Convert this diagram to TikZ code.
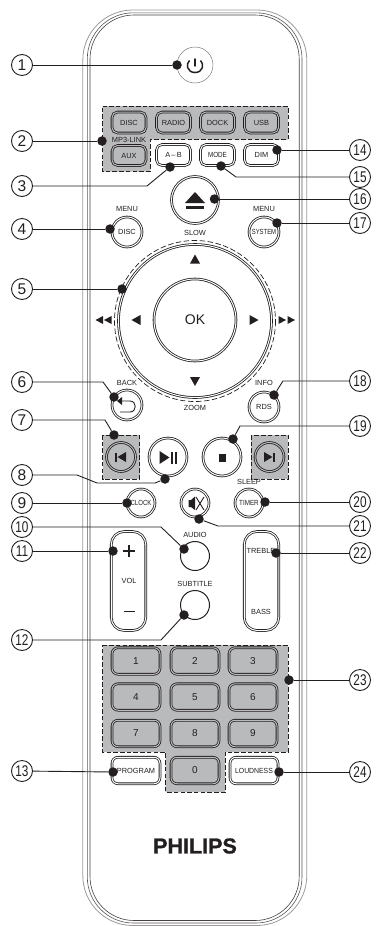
\documentclass[tikz,border=0pt]{standalone}
\usepackage{fontspec}
\setmainfont{Liberation Sans}
\newfontfamily\logofont[BoldFeatures={FakeBold=1.2}]{Liberation Sans}
\usetikzlibrary{calc}
\definecolor{keygray}{HTML}{B9BABC}
\definecolor{ink}{HTML}{231F20}
\tikzset{
  lab/.style={font=\fontsize{7.4}{8}\selectfont,text=ink,inner sep=0pt},
  dotn/.style={circle,fill=ink,draw=none,minimum size=9.5pt,inner sep=0pt},
  numc/.style={circle,draw=ink,line width=.9pt,fill=white,minimum size=21pt,inner sep=0pt,text=ink,font=\fontsize{15.5}{16}\selectfont},
  conn/.style={draw=ink,line width=.9pt},
  rim/.style={draw=ink,line width=.8pt,double=white,double distance=1pt,fill=white,text=ink,inner sep=0pt,font=\fontsize{7.4}{8}\selectfont},
  rimg/.style={rim,double=keygray,fill=keygray},
  rnd/.style={rim,circle},
  rndg/.style={rimg,circle},
  keyb/.style={rim,rounded corners=6pt,minimum width=48pt,minimum height=26.5pt,font=\fontsize{10}{11}\selectfont},
  keyg/.style={keyb,double=keygray,fill=keygray},
  smallb/.style={rim,rounded corners=5.5pt,minimum width=34pt,minimum height=21pt},
  smallg/.style={smallb,double=keygray,fill=keygray},
  area/.style={fill=keygray,draw=ink,line width=.9pt,dash pattern=on 4.5pt off 2.2pt},
  icon/.style={fill=ink,draw=none},
}
\newcommand{\nar}[1]{\scalebox{.76}[1]{#1}}
\begin{document}
\begin{tikzpicture}[x=1pt,y=-1pt]
\useasboundingbox (0,0) rectangle (376,926);
% case
\draw[draw=ink!45,line width=.8pt] (82.8,400) [rounded corners=50pt] -- (82.8,10) -- (306.8,10) -- (306.8,400) -- (306.8,925.5) -- (82.8,925.5) -- cycle;
\draw[draw=ink!75,line width=.6pt] (87.3,400) [rounded corners=46pt] -- (87.3,12.8) -- (302,12.8) -- (302,400) -- (302,923) -- (87.3,923) -- cycle;
\draw[draw=ink!85,line width=.6pt] (90,400) [rounded corners=44pt] -- (90,15) -- (299.2,15) -- (299.2,400) -- (299.2,920.5) -- (90,920.5) -- cycle;
% grey areas
\draw[area] (102.5,106) -- (288,106) -- (288,139.5) -- (150,139.5) -- (150,171.5) -- (102.5,171.5) -- cycle;
\draw[area] (102.5,435) rectangle (139.5,479);
\draw[area] (251,435) rectangle (288,479);
\draw[area] (102.5,645) -- (288,645) -- (288,752) -- (225,752) -- (225,792) -- (165.5,792) -- (165.5,752) -- (102.5,752) -- cycle;
% top
\node[circle,draw=ink!70,line width=.4pt,minimum size=36pt,fill=white] (power) at (195,65) {};
\draw[ink,line width=1.5pt,line cap=round] (195,59) -- (195,66);
\draw[ink,line width=1.5pt] (189.5,60.5) .. controls (185.5,64) and (187,72.5) .. (195,72.5) .. controls (203,72.5) and (204.5,64) .. (200.5,60.5);
\node[smallg] (bdisc) at (129,122.5) {DISC};
\node[smallg] (bradio) at (173.5,122.5) {RADIO};
\node[smallg] (bdock) at (217.5,122.5) {DOCK};
\node[smallg] (busb) at (261.5,122.5) {USB};
\node[lab] (tmp3) at (129,140) {MP3-LINK};
\node[smallg,minimum height=20pt] (baux) at (129,155.5) {AUX};
\node[smallb] (bab) at (173.5,155) {A\,–\,B};
\node[smallb] (bmode) at (217.5,155) {\scalebox{.85}[1]{MODE}};
\node[smallb] (bdim) at (261.5,155) {DIM};
\node[rnd,minimum size=47pt] (beject) at (195,200) {};
\fill[icon] (195,192) -- (205,203) -- (185,203) -- cycle;
\fill[icon] (186,206) rectangle (204,208.5);
\node[lab] (tmenua) at (127,209) {MENU};
\node[lab] (tmenub) at (264,209) {MENU};
\node[rnd,minimum size=30pt] (bdiscm) at (127,232) {DISC};
\node[rnd,minimum size=30pt] (bsys) at (264,232) {\scalebox{.8}[1]{SYSTEM}};
% wheel
\draw[ink,line width=.7pt,dash pattern=on 5.5pt off 2.5pt] (195,321) circle (80.5);
\node[rnd,fill=white,minimum size=153pt] (wheel) at (195,321) {};
\node[lab,fill=white,inner sep=.5pt] (tslow) at (195,233) {SLOW};
\node[lab,fill=white,inner sep=.5pt] (tzoom) at (195,408) {ZOOM};
\node[rnd,minimum size=82pt,font=\fontsize{14}{15}\selectfont] (bok) at (195,320) {OK};
\fill[icon] (195,254.5) -- (200,263.5) -- (190,263.5) -- cycle;
\fill[icon] (195,386) -- (200,377) -- (190,377) -- cycle;
\fill[icon] (131.5,320) -- (140.5,315) -- (140.5,325) -- cycle;
\fill[icon] (258.5,320) -- (249.5,315) -- (249.5,325) -- cycle;
\fill[icon] (95.5,320) -- (103,316) -- (103,324) -- cycle;
\fill[icon] (104,320) -- (111.5,316) -- (111.5,324) -- cycle;
\fill[icon] (286,320) -- (278.5,316) -- (278.5,324) -- cycle;
\fill[icon] (295,320) -- (287.5,316) -- (287.5,324) -- cycle;
\node[lab] (tback) at (127,383) {BACK};
\node[lab] (tinfo) at (264,383) {INFO};
\node[rnd,minimum size=30pt] (bback) at (127,405) {};
\draw[ink,line width=.9pt] (121,401) -- (130,401) .. controls (137,401) and (137,412) .. (130,412) -- (120,412);
\fill[icon] (117,401) -- (122,397) -- (122,405) -- cycle;
\node[rnd,minimum size=30pt] (brds) at (264,407) {RDS};
% transport
\node[rndg,minimum size=29pt] (bprev) at (121,457) {};
\fill[icon] (115,452.5) rectangle (117,461.5);
\fill[icon] (117.5,457) -- (126,452) -- (126,462) -- cycle;
\node[rndg,minimum size=29pt] (bnext) at (269.5,457) {};
\fill[icon] (264,452) -- (272.5,457) -- (264,462) -- cycle;
\fill[icon] (273,452.5) rectangle (275,461.5);
\node[rnd,minimum size=38pt] (bplay) at (168,457) {};
\fill[icon] (159.5,451) -- (169.5,457.5) -- (159.5,464) -- cycle;
\fill[icon] (171,451.5) rectangle (173,463.5);
\fill[icon] (174.5,451.5) rectangle (176.5,463.5);
\node[rnd,minimum size=38pt] (bstop) at (222,457) {};
\fill[icon] (218.5,454) rectangle (226,461.5);
% middle
\node[rnd,minimum size=28pt] (bclock) at (141,503) {\scalebox{.82}[1]{CLOCK}};
\node[rnd,minimum size=28pt] (bmute) at (195,503) {};
\fill[icon] (188.5,500) rectangle (191,507) (191,500) -- (195,496.5) -- (195,510) -- (191,507) -- cycle;
\draw[ink,line width=.9pt] (196,497) -- (204,510) (204,497) -- (196,510);
\node[lab] (tsleep) at (249,482) {SLEEP};
\node[rnd,minimum size=28pt] (btimer) at (249,503) {\scalebox{.85}[1]{TIMER}};
\node[lab] (taudio) at (195,534.5) {AUDIO};
\node[circle,draw=ink,line width=1pt,fill=white,minimum size=29pt,inner sep=0pt] (baudio) at (195,556) {};
\node[lab] (tsub) at (195,583.5) {SUBTITLE};
\node[circle,draw=ink,line width=1pt,fill=white,minimum size=29pt,inner sep=0pt] (bsub) at (195,605) {};
\node[rim,rounded corners=13pt,minimum width=34.5pt,minimum height=99pt] (bvol) at (128.5,581) {};
\draw[ink,line width=1.2pt] (123,551) -- (135,551) (129,545) -- (129,557);
\node[lab] (tvol) at (129,581) {VOL};
\draw[ink,line width=1.2pt] (123.5,611.5) -- (135,611.5);
\node[rim,rounded corners=13pt,minimum width=34.5pt,minimum height=99pt] (btre) at (261.5,581) {};
\node[lab] (ttre) at (261,550.5) {TREBLE};
\node[lab] (tbass) at (261,611.5) {BASS};
% keypad
\node[keyg] (k1) at (136,661) {1};
\node[keyg] (k2) at (195,661) {2};
\node[keyg] (k3) at (253,661) {3};
\node[keyg] (k4) at (136,697) {4};
\node[keyg] (k5) at (195,697) {5};
\node[keyg] (k6) at (253,697) {6};
\node[keyg] (k7) at (136,733.5) {7};
\node[keyg] (k8) at (195,733.5) {8};
\node[keyg] (k9) at (253,733.5) {9};
\node[keyg] (k0) at (195,770.5) {0};
\node[keyb,font=\fontsize{7.4}{8}\selectfont] (kprog) at (136,770.5) {PROGRAM};
\node[keyb,font=\fontsize{7.4}{8}\selectfont] (kloud) at (254,770.5) {\scalebox{.93}[1]{LOUDNESS}};
\node[inner sep=0pt,text=ink,font=\fontsize{21.5}{22}\logofont\bfseries] (logo) at (195,846) {PHILIPS};
% number labels
\node[numc] (n1) at (22,65) {1};
\node[numc] (n2) at (22,141) {2};
\node[numc] (n3) at (22,186) {3};
\node[numc] (n4) at (22,229) {4};
\node[numc] (n5) at (22,289) {5};
\node[numc] (n6) at (22,382) {6};
\node[numc] (n7) at (22,420) {7};
\node[numc] (n8) at (22,475) {8};
\node[numc] (n9) at (22,503) {9};
\node[numc] (n10) at (22,527) {\nar{10}};
\node[numc] (n11) at (22,551) {\nar{11}};
\node[numc] (n12) at (22,640) {\nar{12}};
\node[numc] (n13) at (22,771) {\nar{13}};
\node[numc] (n14) at (360,150) {\nar{14}};
\node[numc] (n15) at (360,177) {\nar{15}};
\node[numc] (n16) at (360,199) {\nar{16}};
\node[numc] (n17) at (360,223) {\nar{17}};
\node[numc] (n18) at (360,381) {\nar{18}};
\node[numc] (n19) at (360,426) {\nar{19}};
\node[numc] (n20) at (360,502) {\nar{20}};
\node[numc] (n21) at (360,526) {\nar{21}};
\node[numc] (n22) at (360,553) {\nar{22}};
\node[numc] (n23) at (360,680) {\nar{23}};
\node[numc] (n24) at (360,772) {\nar{24}};
% dots
\node[dotn] (d1) at (177,65) {};
\node[dotn] (d2) at (102,141) {};
\node[dotn] (d3) at (170,167) {};
\node[dotn] (d4) at (110,229) {};
\node[dotn] (d5) at (122,289) {};
\node[dotn] (d6) at (114,397) {};
\node[dotn] (d7) at (114,435) {};
\node[dotn] (d8) at (165,479) {};
\node[dotn] (d9) at (127,503) {};
\node[dotn] (d10) at (184,549) {};
\node[dotn] (d11) at (113,551) {};
\node[dotn] (d12) at (184,615) {};
\node[dotn] (d13) at (113,772) {};
\node[dotn] (d14) at (277,150) {};
\node[dotn] (d15) at (221,166) {};
\node[dotn] (d16) at (214.5,199) {};
\node[dotn] (d17) at (277,223) {};
\node[dotn] (d18) at (274,395) {};
\node[dotn] (d19) at (233,439) {};
\node[dotn] (d20) at (265,502) {};
\node[dotn] (d21) at (199,519) {};
\node[dotn] (d22) at (276,553) {};
\node[dotn] (d23) at (289,680) {};
\node[dotn] (d24) at (279,772) {};
% bends
\coordinate (c3) at (147,186);
\coordinate (c6) at (103,382);
\coordinate (c7) at (105,420);
\coordinate (c8a) at (77,475);
\coordinate (c8b) at (97,483);
\coordinate (c8c) at (155,483);
\coordinate (c10) at (161,527);
\coordinate (c12) at (161,640);
\coordinate (c15) at (236,177);
\coordinate (c18) at (283,381);
\coordinate (c19) at (240,426);
\coordinate (c21) at (218,526);
% connectors
\draw[conn] (n1) -- (d1);
\draw[conn] (n2) -- (d2);
\draw[conn] (n3) -- (c3) -- (d3);
\draw[conn] (n4) -- (d4);
\draw[conn] (n5) -- (d5);
\draw[conn] (n6) -- (c6) -- (d6);
\draw[conn] (n7) -- (c7) -- (d7);
\draw[conn] (n8) -- (c8a) -- (c8b) -- (c8c) -- (d8);
\draw[conn] (n9) -- (d9);
\draw[conn] (n10) -- (c10) -- (d10);
\draw[conn] (n11) -- (d11);
\draw[conn] (n12) -- (c12) -- (d12);
\draw[conn] (n13) -- (d13);
\draw[conn] (n14) -- (d14);
\draw[conn] (n15) -- (c15) -- (d15);
\draw[conn] (n16) -- (d16);
\draw[conn] (n17) -- (d17);
\draw[conn] (n18) -- (c18) -- (d18);
\draw[conn] (n19) -- (c19) -- (d19);
\draw[conn] (n20) -- (d20);
\draw[conn] (n21) -- (c21) -- (d21);
\draw[conn] (n22) -- (d22);
\draw[conn] (n23) -- (d23);
\draw[conn] (n24) -- (d24);
\end{tikzpicture}
\end{document}
